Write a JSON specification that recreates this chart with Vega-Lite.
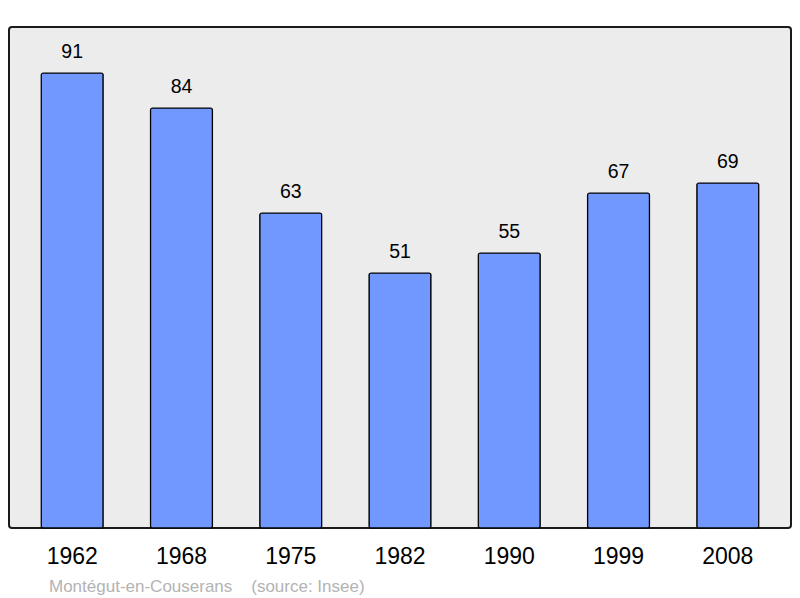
{
  "$schema": "https://vega.github.io/schema/vega-lite/v6.json",
  "autosize": {"type": "none"},
  "width": 782,
  "height": 501,
  "padding": {"left": 9, "top": 27, "right": 9, "bottom": 70},
  "background": "#ffffff",
  "config": {
    "view": {"fill": "#ececec", "stroke": "#1a1a1a", "strokeWidth": 2, "cornerRadius": 3},
    "font": "Liberation Sans"
  },
  "title": {
    "text": "Montégut-en-Couserans\u00a0\u00a0\u00a0\u00a0(source: Insee)",
    "orient": "bottom",
    "anchor": "start",
    "dx": 40,
    "offset": 11,
    "fontSize": 17,
    "fontWeight": "normal",
    "color": "#b3b3b3",
    "font": "Liberation Sans"
  },
  "data": {
    "values": [
      {"year": "1962", "pop": 91},
      {"year": "1968", "pop": 84},
      {"year": "1975", "pop": 63},
      {"year": "1982", "pop": 51},
      {"year": "1990", "pop": 55},
      {"year": "1999", "pop": 67},
      {"year": "2008", "pop": 69}
    ]
  },
  "encoding": {
    "x": {
      "field": "year",
      "type": "ordinal",
      "title": null,
      "scale": {"paddingInner": 0.433, "paddingOuter": 0.295},
      "axis": {
        "domain": false,
        "ticks": false,
        "labelAngle": 0,
        "labelFontSize": 23,
        "labelColor": "#000000",
        "labelPadding": 17,
        "labelFont": "Liberation Sans"
      }
    },
    "y": {
      "field": "pop",
      "type": "quantitative",
      "scale": {"domain": [0, 100.2], "nice": false},
      "axis": null
    }
  },
  "layer": [
    {
      "mark": {"type": "bar", "color": "#7098ff", "stroke": "#000000", "strokeWidth": 1.2, "cornerRadius": 2}
    },
    {
      "mark": {"type": "text", "baseline": "bottom", "dy": -11, "fontSize": 19.5, "color": "#000000", "font": "Liberation Sans"},
      "encoding": {"text": {"field": "pop", "type": "quantitative"}}
    }
  ]
}
